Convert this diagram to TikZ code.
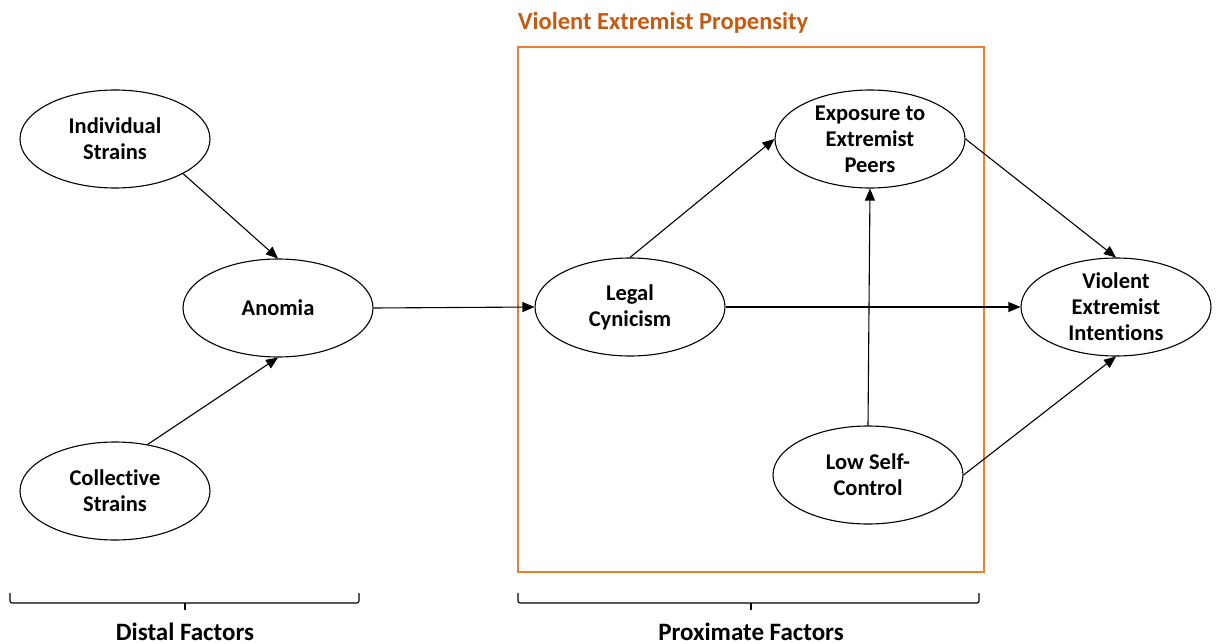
\documentclass[tikz,border=0pt]{standalone}
\usepackage{fontspec}
\setmainfont{Carlito}[Ligatures=NoCommon]
\usetikzlibrary{shapes.geometric,arrows.meta}
\definecolor{boxorange}{HTML}{ED7D31}
\definecolor{titleorange}{HTML}{C55A11}
\begin{document}
\begin{tikzpicture}[x=1pt,y=-1pt,
  var/.style={ellipse,draw,line width=1.1pt,minimum width=190pt,minimum height=98pt,inner sep=0pt,align=center,
    font=\fontsize{22.5}{26}\selectfont\bfseries},
  conn/.style={line width=1.1pt,-{Triangle[length=12pt,width=10pt]}},
  lbl/.style={font=\fontsize{25}{28}\selectfont\bfseries,inner sep=0pt},
  bracket/.style={line width=1.1pt,rounded corners=2pt}]
\useasboundingbox (0,0) rectangle (1217,644);
% propensity box
\draw[boxorange,line width=1.4pt] (518,47) rectangle (984,572);
\node[lbl,font=\fontsize{24.5}{28}\selectfont\bfseries,text=titleorange,anchor=base west] (title) at (518,30) {Violent Extremist Propensity};
% variables
\node[var] (ind) at (115,139) {Individual\\Strains};
\node[var] (col) at (115,491) {Collective\\Strains};
\node[var] (anom) at (278,308) {Anomia};
\node[var] (legal) at (630,307) {Legal\\Cynicism};
\node[var] (exp) at (870,139) {Exposure to\\Extremist\\Peers};
\node[var] (low) at (868,475) {Low Self-\\Control};
\node[var] (vei) at (1116,307) {Violent\\Extremist\\Intentions};
% connectors
\draw[conn] (ind.-27) -- (anom.north);
\draw[conn] (col.55) -- (anom.south);
\draw[conn] (anom.east) -- (legal.west);
\draw[conn] (legal.north) -- (exp.west);
\draw[conn] (legal.east) -- (vei.west);
\draw[conn] (low.north) -- (exp.south);
\draw[conn] (exp.east) -- (vei.north);
\draw[conn] (low.east) -- (vei.south);
% brackets
\coordinate (dl) at (10,593);
\coordinate (dr) at (359,593);
\coordinate (pl) at (518,593);
\coordinate (pr) at (979,593);
\draw[bracket] (dl) -- ++(0,10) -- ++(349,0) -- (dr);
\draw[line width=1.1pt] (185,603) -- (185,610);
\draw[bracket] (pl) -- ++(0,10) -- ++(461,0) -- (pr);
\draw[line width=1.1pt] (751,603) -- (751,610);
\node[lbl,anchor=base] (distal) at (185,640) {Distal Factors};
\node[lbl,anchor=base] (prox) at (751,640) {Proximate Factors};
\end{tikzpicture}
\end{document}
